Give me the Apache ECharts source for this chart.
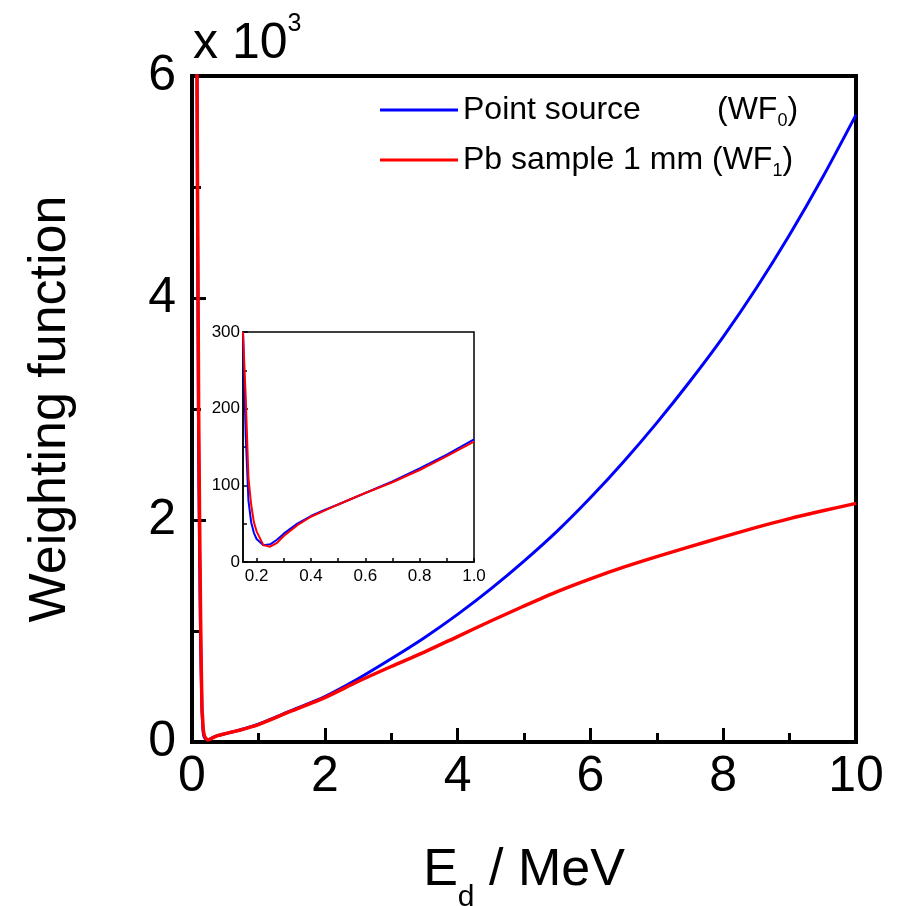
<!DOCTYPE html>
<html>
<head>
<meta charset="utf-8">
<style>
  html, body { margin: 0; padding: 0; background: #fff; }
  #chart { width: 902px; height: 906px; }
</style>
<script src="https://cdn.jsdelivr.net/npm/echarts@6/dist/echarts.min.js"></script>
</head>
<body>
<div id="chart"></div>
<script>
// steep fall near zero (runs off the top of the main frame)
const eSteep = [0.07, 0.1, 0.13]
const wf0Steep = [6800, 2600, 900]
const wf1Steep = [6800, 3000, 1100]

// low energy part, also shown in the inset
const eLow = [0.15, 0.16, 0.17, 0.18, 0.19, 0.2, 0.225, 0.25, 0.275, 0.3, 0.35, 0.4, 0.45, 0.5, 0.6, 0.7, 0.8, 0.9, 1.0]
const wf0Low = [300, 165, 80, 52, 38, 30, 22, 23, 29, 37, 50, 60, 68, 75, 90, 105, 122, 140, 160]
const wf1Low = [300, 215, 110, 75, 52, 40, 22, 20, 25, 34, 48, 59, 67, 75, 90, 104, 120, 138, 157]

// higher energies
const eHigh = [1.5, 2, 2.5, 3, 3.5, 4, 4.5, 5, 5.5, 6, 6.5, 7, 7.5, 8, 8.5, 9, 9.5, 10]
const wf0High = [285, 410, 570, 750, 940, 1150, 1380, 1630, 1900, 2200, 2525, 2875, 3250, 3650, 4090, 4570, 5090, 5650]
const wf1High = [280, 400, 545, 680, 810, 950, 1090, 1225, 1355, 1470, 1575, 1670, 1760, 1848, 1933, 2012, 2083, 2150]

// inset ticks
const insetXTicks = [0.2, 0.3, 0.4, 0.5, 0.6, 0.7, 0.8, 0.9, 1.0]
const insetXLabels = [0.2, 0.4, 0.6, 0.8, 1.0]

const FONT = 'Liberation Sans'

function zip(xs, ys) {
  return xs.map(function(x, i) { return [x, ys[i]] })
}

const wf0All = zip(eSteep.concat(eLow, eHigh), wf0Steep.concat(wf0Low, wf0High))
const wf1All = zip(eSteep.concat(eLow, eHigh), wf1Steep.concat(wf1Low, wf1High))

const chart = echarts.init(document.getElementById('chart'))

chart.setOption({
  backgroundColor: '#fff',
  animation: false,
  title: {
    text: 'x 10{sup|3}',
    left: 193,
    top: 12,
    padding: 0,
    textStyle: {
      fontFamily: FONT,
      fontWeight: 'normal',
      fontSize: 50,
      lineHeight: 64,
      color: '#000',
      rich: {
        sup: { fontFamily: FONT, fontSize: 25, lineHeight: 25, verticalAlign: 'top', color: '#000' }
      }
    }
  },
  legend: {
    orient: 'vertical',
    left: 380,
    top: 90,
    padding: 0,
    itemWidth: 78,
    itemHeight: 3,
    itemGap: 10,
    icon: 'rect',
    data: ['Point source', 'Pb sample 1 mm'],
    formatter: function(name) {
      if (name === 'Point source') {
        return '{n|Point source}(WF{s|0})'
      }
      return 'Pb sample 1 mm (WF{s|1})'
    },
    textStyle: {
      fontFamily: FONT,
      fontSize: 32,
      lineHeight: 40,
      color: '#000',
      rich: {
        n: { fontFamily: FONT, fontSize: 32, width: 254, color: '#000' },
        s: { fontFamily: FONT, fontSize: 18, lineHeight: 18, verticalAlign: 'bottom', color: '#000' }
      }
    }
  },
  grid: [
    {
      left: 192, right: 46, top: 76, bottom: 164,
      outerBoundsMode: 'none',
      show: true, borderColor: '#000', borderWidth: 4
    },
    {
      left: 243, top: 332, width: 231, height: 230,
      outerBoundsMode: 'none',
      show: true, backgroundColor: '#fff', borderColor: '#000', borderWidth: 1.5
    }
  ],
  xAxis: [
    {
      gridIndex: 0,
      type: 'value',
      min: 0,
      max: 10,
      interval: 2,
      name: 'E{sub|d} / MeV',
      nameLocation: 'middle',
      nameGap: 87,
      nameTextStyle: {
        fontFamily: FONT,
        fontSize: 52,
        lineHeight: 84,
        color: '#000',
        rich: {
          sub: { fontFamily: FONT, fontSize: 30, lineHeight: 30, verticalAlign: 'bottom', color: '#000' }
        }
      },
      axisLine: { lineStyle: { color: '#000', width: 4 } },
      axisTick: { inside: true, length: 14, lineStyle: { color: '#000', width: 3 } },
      minorTick: { show: true, splitNumber: 2, length: 9, lineStyle: { color: '#000', width: 3 } },
      splitLine: { show: false },
      axisLabel: { fontFamily: FONT, fontSize: 50, color: '#000', margin: 10 }
    },
    {
      gridIndex: 1,
      type: 'value',
      min: 0.15,
      max: 1.0,
      axisLine: { lineStyle: { color: '#000', width: 1.5 } },
      axisTick: { inside: true, length: 4, customValues: insetXTicks, lineStyle: { color: '#000', width: 1.5 } },
      splitLine: { show: false },
      axisLabel: {
        customValues: insetXLabels,
        formatter: function(v) { return v.toFixed(1) },
        fontFamily: FONT, fontSize: 17, color: '#000', margin: 6
      }
    }
  ],
  yAxis: [
    {
      gridIndex: 0,
      type: 'value',
      min: 0,
      max: 6000,
      interval: 2000,
      name: 'Weighting function',
      nameLocation: 'middle',
      nameGap: 115,
      nameTextStyle: { fontFamily: FONT, fontSize: 52, color: '#000' },
      axisLine: { lineStyle: { color: '#000', width: 4 } },
      axisTick: { inside: true, length: 14, lineStyle: { color: '#000', width: 3 } },
      minorTick: { show: true, splitNumber: 2, length: 9, lineStyle: { color: '#000', width: 3 } },
      splitLine: { show: false },
      axisLabel: {
        formatter: function(v) { return v / 1000 },
        fontFamily: FONT, fontSize: 50, color: '#000', margin: 16
      }
    },
    {
      gridIndex: 1,
      type: 'value',
      min: 0,
      max: 300,
      interval: 100,
      axisLine: { lineStyle: { color: '#000', width: 1.5 } },
      axisTick: { inside: true, length: 5, lineStyle: { color: '#000', width: 1.5 } },
      minorTick: { show: true, splitNumber: 2, length: 4, lineStyle: { color: '#000', width: 1.5 } },
      splitLine: { show: false },
      axisLabel: { fontFamily: FONT, fontSize: 17, color: '#000', margin: 3 }
    }
  ],
  series: [
    {
      name: 'Point source',
      type: 'line',
      xAxisIndex: 0,
      yAxisIndex: 0,
      data: wf0All,
      symbol: 'none',
      smooth: 0.25,
      lineStyle: { color: '#0000ff', width: 3 },
      itemStyle: { color: '#0000ff' }
    },
    {
      name: 'Pb sample 1 mm',
      type: 'line',
      xAxisIndex: 0,
      yAxisIndex: 0,
      data: wf1All,
      symbol: 'none',
      smooth: 0.25,
      lineStyle: { color: '#ff0000', width: 3.5 },
      itemStyle: { color: '#ff0000' }
    },
    {
      name: 'inset WF0',
      type: 'line',
      xAxisIndex: 1,
      yAxisIndex: 1,
      data: zip(eLow, wf0Low),
      symbol: 'none',
      lineStyle: { color: '#0000ff', width: 2 },
      z: 5
    },
    {
      name: 'inset WF1',
      type: 'line',
      xAxisIndex: 1,
      yAxisIndex: 1,
      data: zip(eLow, wf1Low),
      symbol: 'none',
      lineStyle: { color: '#ff0000', width: 2 },
      z: 5
    }
  ]
})
</script>
</body>
</html>
